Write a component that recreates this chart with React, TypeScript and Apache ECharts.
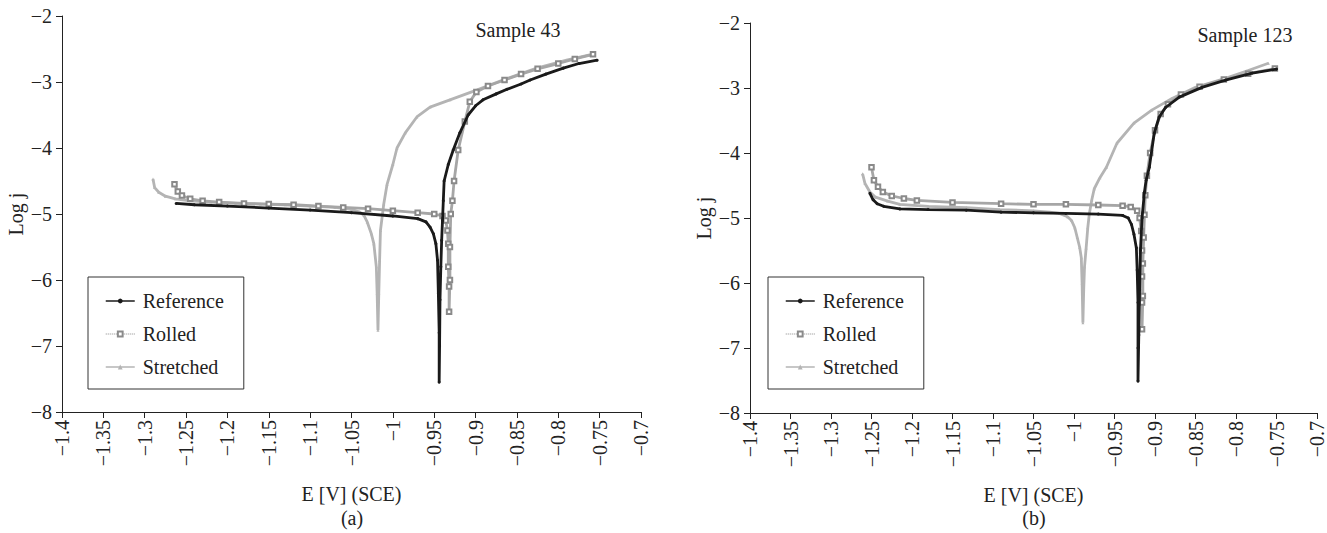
import React, { useEffect, useRef } from 'react';
import * as echarts from 'echarts';

// Axis ranges / ticks
const X_MIN = -1.4;
const X_MAX = -0.7;
const X_STEP = 0.05;
const Y_MIN = -8;
const Y_MAX = -2;
const Y_STEP = 1;

const seriesNames = ['Reference', 'Rolled', 'Stretched'];
const sampleTitles = ['Sample 43', 'Sample 123'];
const panelLabels = ['(a)', '(b)'];
const xAxisTitle = 'E [V] (SCE)';
const yAxisTitle = 'Log j';

// ---- Panel (a): Sample 43 ----  [E (V), log j]
const referenceA: [number, number][] = [
  [-1.262, -4.84], [-1.24, -4.86], [-1.2, -4.88], [-1.15, -4.91], [-1.1, -4.94],
  [-1.05, -4.98], [-1.0, -5.03], [-0.97, -5.07], [-0.96, -5.12], [-0.955, -5.2],
  [-0.951, -5.3], [-0.948, -5.45], [-0.946, -5.7], [-0.945, -6.2], [-0.944, -6.8],
  [-0.944, -7.55], [-0.9435, -7.0], [-0.943, -6.3], [-0.942, -5.8], [-0.941, -5.4],
  [-0.94, -5.1], [-0.939, -4.8], [-0.938, -4.5], [-0.933, -4.25], [-0.927, -4.03],
  [-0.919, -3.77], [-0.909, -3.5], [-0.9, -3.36], [-0.891, -3.27], [-0.875, -3.18],
  [-0.862, -3.11], [-0.845, -3.03], [-0.834, -2.97], [-0.815, -2.88], [-0.794, -2.79],
  [-0.775, -2.72], [-0.753, -2.67],
];
const rolledA: [number, number][] = [
  [-1.264, -4.55], [-1.26, -4.66], [-1.255, -4.72], [-1.245, -4.77], [-1.23, -4.8],
  [-1.21, -4.82], [-1.18, -4.84], [-1.15, -4.85], [-1.12, -4.86], [-1.09, -4.88],
  [-1.06, -4.9], [-1.03, -4.92], [-1.0, -4.95], [-0.97, -4.98], [-0.95, -5.0],
  [-0.94, -5.03], [-0.936, -5.1], [-0.934, -5.25], [-0.933, -5.45], [-0.933, -5.8],
  [-0.932, -6.1], [-0.932, -6.48], [-0.931, -6.0], [-0.931, -5.5], [-0.93, -5.0],
  [-0.928, -4.8], [-0.926, -4.5], [-0.921, -4.03], [-0.913, -3.6], [-0.907, -3.3],
  [-0.899, -3.15], [-0.885, -3.06], [-0.865, -2.97], [-0.845, -2.88], [-0.825, -2.8],
  [-0.8, -2.72], [-0.78, -2.65], [-0.758, -2.58],
];
const stretchedA: [number, number][] = [
  [-1.29, -4.47], [-1.288, -4.6], [-1.283, -4.67], [-1.275, -4.73], [-1.263, -4.77],
  [-1.245, -4.8], [-1.22, -4.82], [-1.19, -4.84], [-1.16, -4.85], [-1.13, -4.86],
  [-1.1, -4.88], [-1.07, -4.9], [-1.05, -4.93], [-1.04, -4.97], [-1.035, -5.02],
  [-1.031, -5.12], [-1.026, -5.3], [-1.023, -5.45], [-1.02, -5.8], [-1.019, -6.2],
  [-1.018, -6.76], [-1.017, -6.2], [-1.016, -5.7], [-1.015, -5.25], [-1.011, -4.85],
  [-1.007, -4.55], [-1.0, -4.25], [-0.995, -4.0], [-0.985, -3.77], [-0.971, -3.53],
  [-0.955, -3.38], [-0.931, -3.27], [-0.898, -3.12], [-0.867, -2.97], [-0.826, -2.79],
  [-0.79, -2.67], [-0.762, -2.59],
];

// ---- Panel (b): Sample 123 ----
const referenceB: [number, number][] = [
  [-1.252, -4.62], [-1.248, -4.72], [-1.243, -4.78], [-1.235, -4.82], [-1.215, -4.86],
  [-1.18, -4.87], [-1.133, -4.88], [-1.09, -4.91], [-1.05, -4.92], [-1.01, -4.93],
  [-0.97, -4.94], [-0.94, -4.96], [-0.933, -5.0], [-0.929, -5.1], [-0.926, -5.25],
  [-0.923, -5.46], [-0.922, -5.8], [-0.921, -6.3], [-0.921, -7.0], [-0.921, -7.51],
  [-0.92, -6.8], [-0.919, -6.1], [-0.918, -5.5], [-0.916, -5.0], [-0.913, -4.6],
  [-0.911, -4.42], [-0.907, -4.22], [-0.901, -3.7], [-0.895, -3.45], [-0.887, -3.3],
  [-0.87, -3.14], [-0.842, -2.99], [-0.813, -2.88], [-0.78, -2.77], [-0.75, -2.71],
];
const rolledB: [number, number][] = [
  [-1.25, -4.22], [-1.247, -4.42], [-1.242, -4.52], [-1.236, -4.6], [-1.225, -4.66],
  [-1.21, -4.7], [-1.194, -4.73], [-1.15, -4.76], [-1.09, -4.78], [-1.05, -4.79],
  [-1.01, -4.79], [-0.97, -4.8], [-0.94, -4.81], [-0.93, -4.83], [-0.922, -4.89],
  [-0.919, -5.0], [-0.917, -5.2], [-0.916, -5.5], [-0.916, -5.9], [-0.916, -6.3],
  [-0.916, -6.71], [-0.915, -6.2], [-0.915, -5.7], [-0.914, -5.3], [-0.913, -4.95],
  [-0.912, -4.65], [-0.91, -4.35], [-0.906, -4.0], [-0.9, -3.65], [-0.893, -3.4],
  [-0.884, -3.25], [-0.868, -3.1], [-0.845, -2.98], [-0.815, -2.87], [-0.785, -2.78],
  [-0.752, -2.7],
];
const stretchedB: [number, number][] = [
  [-1.261, -4.32], [-1.258, -4.47], [-1.252, -4.6], [-1.245, -4.68], [-1.23, -4.74],
  [-1.215, -4.79], [-1.18, -4.82], [-1.133, -4.84], [-1.092, -4.87], [-1.05, -4.89],
  [-1.03, -4.91], [-1.018, -4.93], [-1.008, -4.98], [-1.003, -5.04], [-0.999, -5.15],
  [-0.996, -5.3], [-0.993, -5.45], [-0.991, -5.61], [-0.99, -6.0], [-0.989, -6.61],
  [-0.988, -6.1], [-0.987, -5.75], [-0.985, -5.46], [-0.983, -5.15], [-0.981, -4.93],
  [-0.978, -4.72], [-0.975, -4.55], [-0.968, -4.38], [-0.96, -4.22], [-0.947, -3.85],
  [-0.926, -3.54], [-0.904, -3.34], [-0.879, -3.16], [-0.85, -2.99], [-0.813, -2.85],
  [-0.785, -2.73], [-0.76, -2.62],
];

const FONT = "'Liberation Serif', 'Times New Roman', serif";
const INK = '#222';
const C_REF = '#1a1a1a';
const C_ROLL = '#8a8a8a';
const C_ROLL_LINE = '#a6a6a6';
const C_STR = '#b4b4b4';

const fmt = (v: number) => {
  const r = Math.round(v * 100) / 100;
  return (r < 0 ? '\u2212' : '') + String(Math.abs(r));
};

function makeSeries(idx: number, ref: [number, number][], rol: [number, number][], str: [number, number][]) {
  return [
    {
      name: seriesNames[2], type: 'line', xAxisIndex: idx, yAxisIndex: idx, data: str,
      symbol: 'triangle', symbolSize: 3, z: 2,
      lineStyle: { color: C_STR, width: 2.8 }, itemStyle: { color: C_STR },
    },
    {
      name: seriesNames[1], type: 'line', xAxisIndex: idx, yAxisIndex: idx, data: rol,
      symbol: 'emptyRect', symbolSize: 4.5, z: 3,
      lineStyle: { color: C_ROLL_LINE, width: 2.8 }, itemStyle: { color: C_ROLL, borderWidth: 1 },
    },
    {
      name: seriesNames[0], type: 'line', xAxisIndex: idx, yAxisIndex: idx, data: ref,
      symbol: 'circle', symbolSize: 3, z: 4,
      lineStyle: { color: C_REF, width: 2.8 }, itemStyle: { color: C_REF },
    },
  ];
}

function xAxisOf(gridIndex: number) {
  return {
    type: 'value', gridIndex, min: X_MIN, max: X_MAX, interval: X_STEP,
    axisLine: { show: true, onZero: false, lineStyle: { color: INK, width: 1 } },
    axisTick: { show: true, length: 6, lineStyle: { color: INK } },
    splitLine: { show: false },
    axisLabel: { rotate: 90, margin: 8, fontSize: 20, fontFamily: FONT, color: INK, formatter: fmt },
    name: xAxisTitle, nameLocation: 'middle', nameGap: 72,
    nameTextStyle: { fontSize: 20, fontFamily: FONT, color: INK },
  };
}

function yAxisOf(gridIndex: number) {
  return {
    type: 'value', gridIndex, min: Y_MIN, max: Y_MAX, interval: Y_STEP,
    axisLine: { show: true, onZero: false, lineStyle: { color: INK, width: 1 } },
    axisTick: { show: true, length: 6, lineStyle: { color: INK } },
    splitLine: { show: false },
    axisLabel: { margin: 10, fontSize: 20, fontFamily: FONT, color: INK, formatter: fmt },
    name: yAxisTitle, nameLocation: 'middle', nameGap: 36, nameRotate: 90,
    nameTextStyle: { fontSize: 20, fontFamily: FONT, color: INK },
  };
}

function legendOf(left: number, top: number) {
  return {
    left, top, orient: 'vertical', itemWidth: 29, itemHeight: 6, itemGap: 13,
    padding: [14, 20, 12, 17], borderColor: '#333', borderWidth: 1, backgroundColor: '#fff',
    selectedMode: false,
    textStyle: { fontSize: 20, fontFamily: FONT, color: INK, padding: [0, 0, 0, 3] },
    lineStyle: { width: 1.5 },
    data: [
      { name: seriesNames[0] },
      { name: seriesNames[1], lineStyle: { type: 'dotted', width: 1, color: C_ROLL } },
      { name: seriesNames[2], lineStyle: { width: 1.5, color: C_STR } },
    ],
  };
}

function textAt(text: string, x: number, y: number) {
  return {
    type: 'text', x, y, z: 10,
    style: { text, font: `20px ${FONT}`, fill: INK, align: 'center', verticalAlign: 'middle' },
  };
}

export default function App() {
  const ref = useRef<HTMLDivElement>(null);
  useEffect(() => {
    if (!ref.current) return;
    const chart = echarts.init(ref.current, undefined, { renderer: 'svg' });
    chart.setOption({
      animation: false,
      backgroundColor: '#fff',
      grid: [
        { left: 62, top: 16, width: 579, height: 396 },
        { left: 750, top: 23, width: 568, height: 390 },
      ],
      xAxis: [xAxisOf(0), xAxisOf(1)],
      yAxis: [yAxisOf(0), yAxisOf(1)],
      legend: [legendOf(88, 277), legendOf(768, 277)],
      series: [
        ...makeSeries(0, referenceA, rolledA, stretchedA),
        ...makeSeries(1, referenceB, rolledB, stretchedB),
      ],
      graphic: [
        textAt(sampleTitles[0], 518, 30),
        textAt(sampleTitles[1], 1245, 35),
        textAt(panelLabels[0], 352, 518),
        textAt(panelLabels[1], 1034, 518),
      ],
    });
    return () => chart.dispose();
  }, []);
  return (
    <div
      ref={ref}
      style={{ position: 'absolute', left: 0, top: 0, width: 1327, height: 533 }}
    />
  );
}
